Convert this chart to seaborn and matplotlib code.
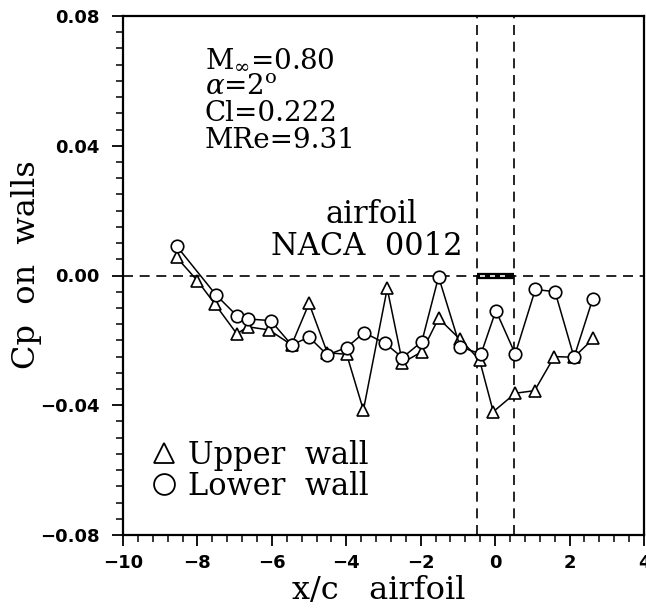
import numpy as np
import pandas as pd
import matplotlib
matplotlib.use('Agg')
import matplotlib.pyplot as plt
from matplotlib.lines import Line2D
from matplotlib.ticker import MultipleLocator, FuncFormatter
import seaborn as sns

# wall pressure data
upper_x = [-8.56, -8.0, -7.53, -6.94, -6.65, -6.07, -5.47, -5.0, -4.51, -3.99, -3.54,
           -2.9, -2.49, -1.97, -1.52, -0.94, -0.42, -0.05, 0.54, 1.06, 1.59, 2.12, 2.64]
upper_cp = [0.0056, -0.0016, -0.0088, -0.018, -0.0158, -0.0168, -0.0214, -0.0086, -0.0238,
            -0.0243, -0.0415, -0.004, -0.0269, -0.0235, -0.0132, -0.0197, -0.026, -0.042,
            -0.0363, -0.0355, -0.025, -0.0252, -0.0194]
lower_x = [-8.56, -7.5, -6.94, -6.65, -6.03, -5.47, -5.0, -4.51, -3.99, -3.52, -2.96,
           -2.49, -1.97, -1.52, -0.94, -0.38, 0.02, 0.54, 1.08, 1.61, 2.12, 2.62]
lower_cp = [0.0091, -0.006, -0.0124, -0.0134, -0.0139, -0.0214, -0.019, -0.0245, -0.0222,
            -0.0176, -0.0209, -0.0253, -0.0204, -0.0004, -0.022, -0.0242, -0.0108, -0.0242,
            -0.0043, -0.005, -0.0252, -0.0073]

airfoil_le, airfoil_te = -0.5, 0.5
info_lines = [r'M$_{\infty}$=0.80', r'$\alpha$=2$^{\rm o}$', 'Cl=0.222', 'MRe=9.31']

sns.set_style('ticks', rc={'axes.edgecolor': 'black', 'xtick.color': 'black',
                           'ytick.color': 'black', 'text.color': 'black',
                           'axes.labelcolor': 'black'})
plt.rcParams['font.family'] = ['DejaVu Serif', 'DejaVu Sans']
plt.rcParams['mathtext.fontset'] = 'dejavuserif'

upper = pd.DataFrame({'x': upper_x, 'cp': upper_cp})
lower = pd.DataFrame({'x': lower_x, 'cp': lower_cp})

fig = plt.figure(figsize=(6.46, 6.09), dpi=100)
ax = fig.add_axes([123 / 646, 1 - 535 / 609, 521 / 646, 519 / 609])

mk = dict(markerfacecolor='white', markeredgecolor='black', markeredgewidth=1.2,
          markersize=9, linewidth=1.1, color='black')
sns.lineplot(data=upper, x='x', y='cp', ax=ax, sort=False, marker='^', zorder=3, **mk)
sns.lineplot(data=lower, x='x', y='cp', ax=ax, sort=False, marker='o', zorder=4, **mk)

# reference lines and airfoil position
ax.axhline(0, color='black', lw=1.2, ls=(0, (6, 4)), zorder=1)
for xv in (airfoil_le, airfoil_te):
    ax.axvline(xv, color='black', lw=1.2, ls=(0, (6, 4)), zorder=1)
ax.plot([airfoil_le, airfoil_te], [0, 0], color='black', lw=4.5, solid_capstyle='butt', zorder=2)
ax.plot([airfoil_le + 0.1, airfoil_te - 0.1], [0, 0], color='white', lw=1.2,
        ls=(0, (3, 3)), zorder=2)

ax.set_xlim(-10, 4)
ax.set_ylim(-0.08, 0.08)
ax.xaxis.set_major_locator(MultipleLocator(2))
ax.xaxis.set_minor_locator(MultipleLocator(0.4))
ax.yaxis.set_major_locator(MultipleLocator(0.04))
ax.yaxis.set_minor_locator(MultipleLocator(0.005))
ax.xaxis.set_major_formatter(FuncFormatter(lambda v, p: f'{v:.0f}'.replace('-', '\u2212')))
ax.yaxis.set_major_formatter(FuncFormatter(lambda v, p: f'{v:.2f}'.replace('-', '\u2212')))
ax.tick_params(which='major', length=8, width=1.3, direction='out', labelsize=13, pad=6)
ax.tick_params(which='minor', length=5, width=1.1, direction='out')
ax.tick_params(axis='y', which='major', pad=9)
for lab in ax.get_xticklabels() + ax.get_yticklabels():
    lab.set_fontfamily('DejaVu Sans')
    lab.set_fontweight('bold')
for sp in ax.spines.values():
    sp.set_linewidth(1.6)
    sp.set_visible(True)

ax.set_xlabel('x/c   airfoil', fontsize=23)
ax.xaxis.set_label_coords(0.49, -0.077)
ax.set_ylabel('Cp  on  walls', fontsize=23)
ax.yaxis.set_label_coords(-0.155, 0.52)

# flow conditions
for i, line in enumerate(info_lines):
    ax.text(205, 67 + 27 * i, line, fontsize=20, va='baseline')
ax.text(371, 223, 'airfoil', fontsize=22, ha='center', va='baseline')
ax.text(367, 255, 'NACA  0012', fontsize=22, ha='center', va='baseline')

handles = [Line2D([], [], ls='none', marker='^', markersize=15, markerfacecolor='white',
                  markeredgecolor='black', markeredgewidth=1.3),
           Line2D([], [], ls='none', marker='o', markersize=15, markerfacecolor='white',
                  markeredgecolor='black', markeredgewidth=1.3)]
ax.legend(handles, ['Upper  wall', 'Lower  wall'], loc='lower left',
          bbox_to_anchor=(0.025, 0.035), frameon=False, fontsize=22,
          handlelength=0.8, handletextpad=0.4, labelspacing=0.0, borderpad=0)

# text positions above are given in pixels from the top; flip them
for t in ax.texts:
    x0, y0 = t.get_position()
    t.set_transform(fig.dpi_scale_trans)
    t.set_position((x0 / 100, (609 - y0) / 100))

fig.savefig('out.png', dpi=100)
